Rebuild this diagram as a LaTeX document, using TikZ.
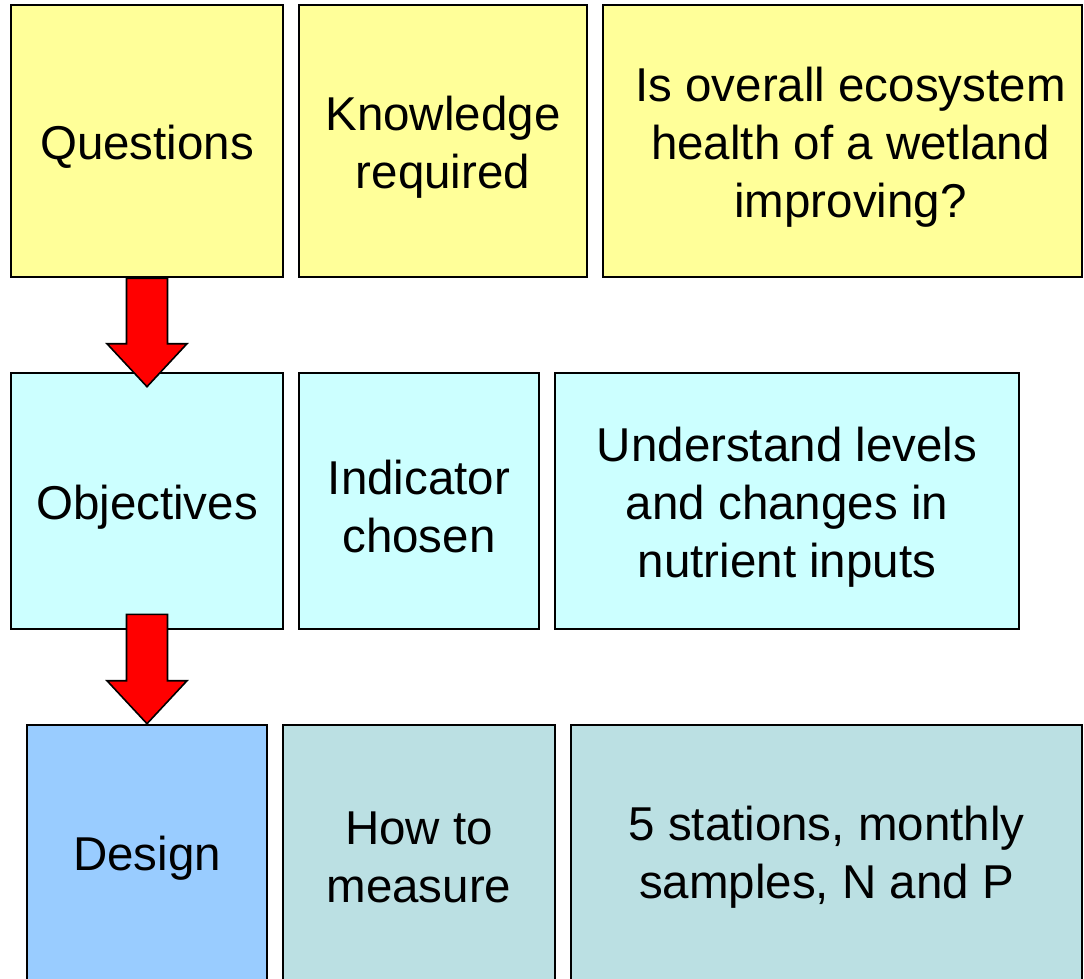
\documentclass[tikz,border=0pt]{standalone}
\usepackage{fontspec}
\setmainfont{Liberation Sans}
\usetikzlibrary{calc}
\definecolor{qyellow}{HTML}{FFFF99}
\definecolor{ocyan}{HTML}{CCFFFF}
\definecolor{dblue}{HTML}{99CCFF}
\definecolor{dteal}{HTML}{BBE0E3}
\tikzset{
	box/.style={draw=black, line width=2.6pt, inner sep=0pt},
	boxtext/.style={inner sep=0pt, align=center, yshift=-#1,
		font=\fontsize{47.5}{58}\selectfont},
	boxtext/.default=6pt,
	redhead/.style={draw=black, fill=red, line width=1.6pt, line join=miter}
}
\def\redarrow(#1)(#2){\draw[redhead] ($(#1)+(-20.5,0)$) -- ($(#2)+(-20.5,-43)$) -- ($(#2)+(-40,-43)$) -- (#2) -- ($(#2)+(40,-43)$) -- ($(#2)+(20.5,-43)$) -- ($(#1)+(20.5,0)$) -- cycle;}

\begin{document}
\begin{tikzpicture}[x=1pt, y=-1pt]
			%%%%% START %%%%%
			\useasboundingbox (0, 0) rectangle (1084, 978);
			
			\node[box, fill=qyellow, minimum width=272, minimum height=272, label={[boxtext]center:Questions}] (questions) at (147, 141) {};
			\node[box, fill=qyellow, minimum width=288, minimum height=272, label={[boxtext]center:{Knowledge\\required}}] (knowledge) at (443, 141) {};
			\node[box, fill=qyellow, minimum width=479, minimum height=272, label={[boxtext, xshift=8pt]center:{Is overall ecosystem\\health of a wetland\\improving?}}] (health) at (842.5, 141) {};
			
			\node[box, fill=ocyan, minimum width=272, minimum height=256, label={[boxtext]center:Objectives}] (objectives) at (147, 501) {};
			\node[box, fill=ocyan, minimum width=240, minimum height=256, label={[boxtext]center:{Indicator\\chosen}}] (indicator) at (419, 501) {};
			\node[box, fill=ocyan, minimum width=464, minimum height=256, label={[boxtext]center:{Understand levels\\and changes in\\nutrient inputs}}] (nutrient) at (787, 501) {};
			
			\node[box, fill=dblue, minimum width=240, minimum height=262, label={[boxtext=2pt]center:Design}] (design) at (147, 856) {};
			\node[box, fill=dteal, minimum width=272, minimum height=262, label={[boxtext=1pt]center:{How to\\measure}}] (measure) at (419, 856) {};
			\node[box, fill=dteal, minimum width=511, minimum height=262, label={[boxtext=1pt]center:{5 stations, monthly\\samples, N and P}}] (stations) at (826.5, 856) {};
			
			\coordinate (tip1) at ($(objectives.north)+(0,15)$);
			\coordinate (tail2) at ($(objectives.south)+(0,-16)$);
			\redarrow(questions.south)(tip1)
			\redarrow(tail2)(design.north)
			
			%%%%% END %%%%%
\end{tikzpicture}
\end{document}
